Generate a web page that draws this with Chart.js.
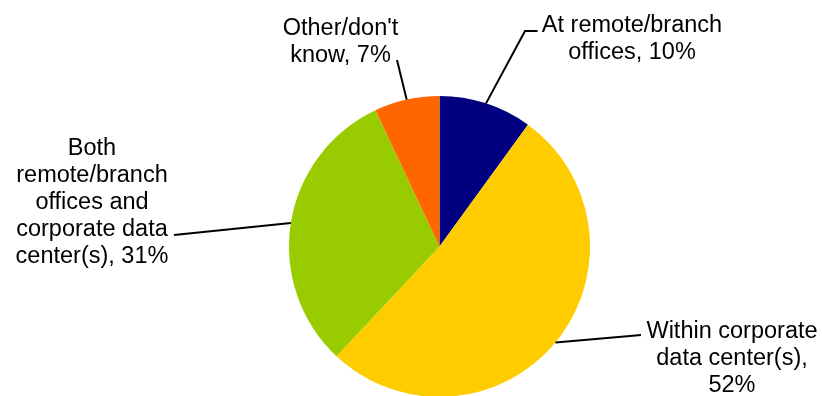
<!DOCTYPE html>
<html>
<head>
<meta charset="utf-8">
<script src="https://cdn.jsdelivr.net/npm/chart.js@4"></script>
<style>
html,body{margin:0;padding:0;background:#fff;overflow:hidden;width:822px;height:396px;}
canvas{display:block;}
</style>
</head>
<body>
<canvas id="c" width="822" height="400"></canvas>
<script>
const categories = ["At remote/branch offices", "Within corporate data center(s)", "Both remote/branch offices and corporate data center(s)", "Other/don't know"];
const values = [10, 52, 31, 7];
const colors = ["#000080", "#FFCC00", "#99CC00", "#FF6600"];
const labelLines = [
  ["At remote/branch", "offices, 10%"],
  ["Within corporate", "data center(s),", "52%"],
  ["Both", "remote/branch", "offices and", "corporate data", "center(s), 31%"],
  ["Other/don't", "know, 7%"]
];
// label layout: text center x, first baseline y, leader path points (from label side toward slice)
const labelLayout = [
  {x: 632, y: 32, path: [[537.5, 31], [525, 31]]},
  {x: 732, y: 338, path: [[641, 335], [630, 336]]},
  {x: 92, y: 155, path: [[174, 235]]},
  {x: 340.5, y: 35, path: [[397, 60]]}
];

const leaderPlugin = {
  id: 'leaders',
  afterDatasetsDraw(chart) {
    const ctx = chart.ctx;
    const meta = chart.getDatasetMeta(0);
    ctx.save();
    ctx.strokeStyle = '#000';
    ctx.lineWidth = 2;
    ctx.fillStyle = '#000';
    ctx.font = '23.5px "Liberation Sans", Arial, sans-serif';
    ctx.textAlign = 'center';
    ctx.textBaseline = 'alphabetic';
    meta.data.forEach((arc, i) => {
      const p = arc.getProps(['x','y','startAngle','endAngle','outerRadius'], true);
      const mid = (p.startAngle + p.endAngle) / 2;
      const ex = p.x + Math.cos(mid) * p.outerRadius;
      const ey = p.y + Math.sin(mid) * p.outerRadius;
      const L = labelLayout[i];
      ctx.beginPath();
      ctx.moveTo(L.path[0][0], L.path[0][1]);
      for (let k = 1; k < L.path.length; k++) ctx.lineTo(L.path[k][0], L.path[k][1]);
      ctx.lineTo(ex, ey);
      ctx.stroke();
      labelLines[i].forEach((t, j) => {
        ctx.fillText(t, L.x, L.y + j * 27);
      });
    });
    ctx.restore();
  }
};

new Chart(document.getElementById('c'), {
  type: 'pie',
  data: {
    labels: categories,
    datasets: [{
      data: values,
      backgroundColor: colors,
      borderWidth: 0,
      hoverOffset: 0
    }]
  },
  options: {
    responsive: false,
    animation: false,
    layout: {padding: {top: 96, bottom: 3, left: 289, right: 232}},
    plugins: {legend: {display: false}, tooltip: {enabled: false}}
  },
  plugins: [leaderPlugin]
});
</script>
</body>
</html>
